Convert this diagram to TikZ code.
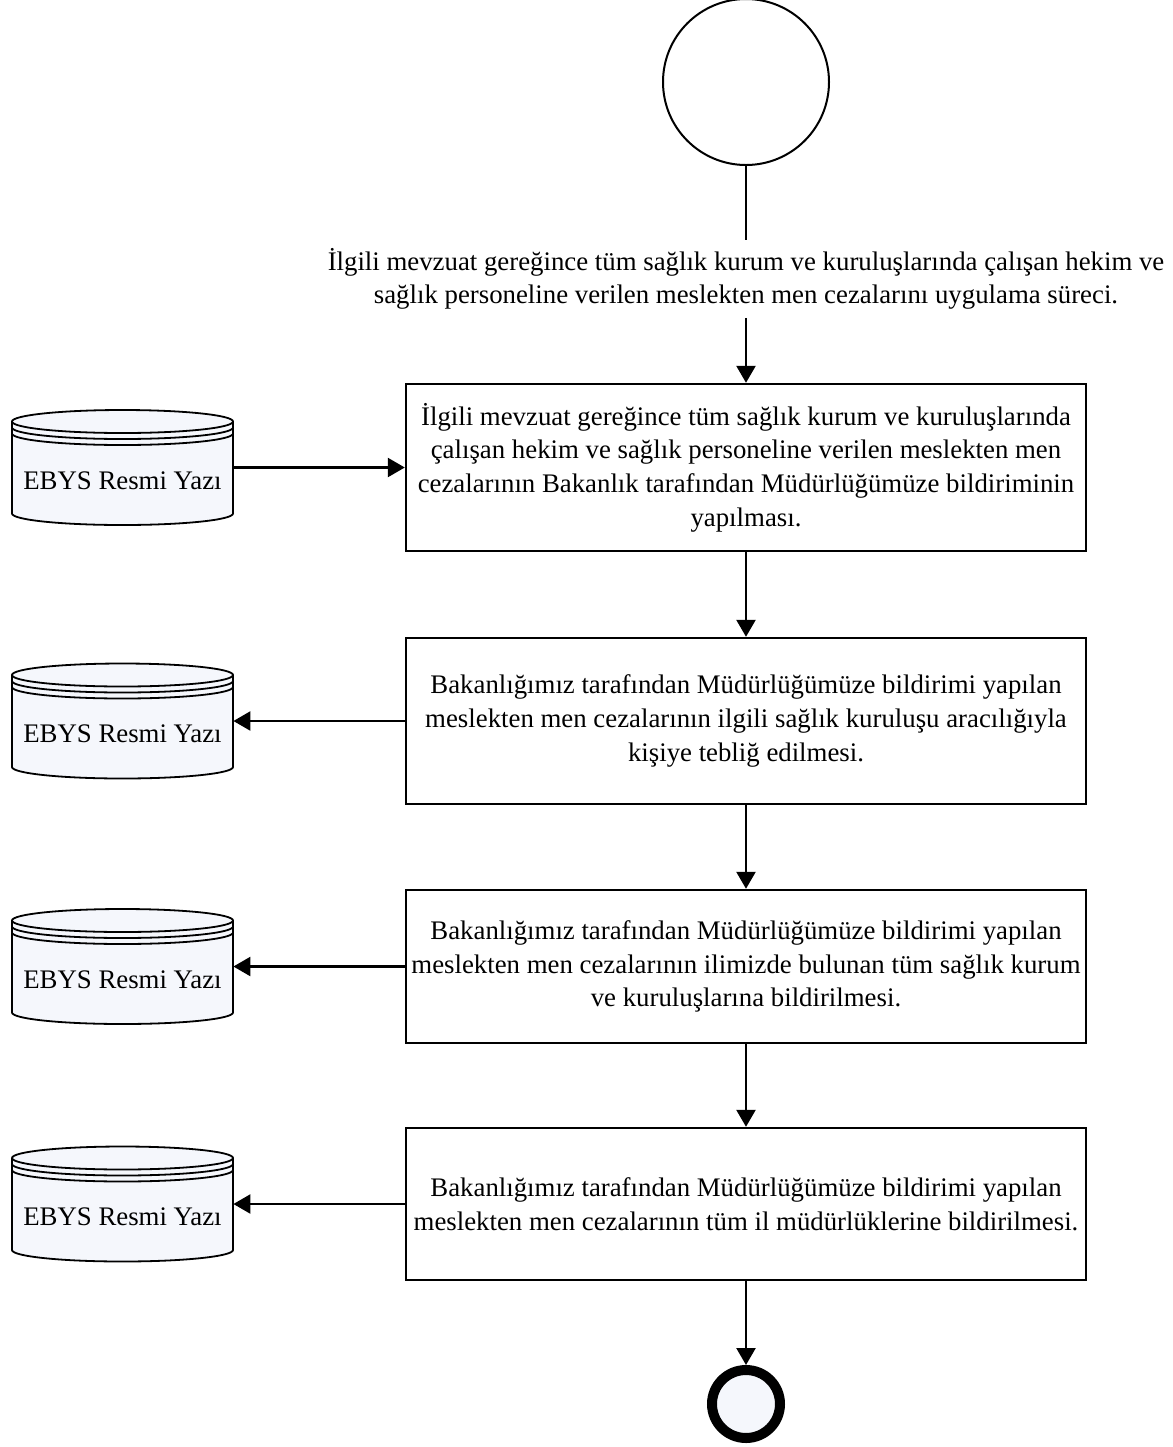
\documentclass[tikz,border=0pt]{standalone}
\usepackage{fontspec}
\setmainfont{Liberation Serif}
\usepackage{tikz}
\usetikzlibrary{arrows.meta}
\definecolor{Ink}{HTML}{000000}
\definecolor{Pale}{HTML}{F5F7FC}
\tikzset{
  stepbox/.style={draw=Ink,line width=1.2pt,fill=white,minimum width=340pt,align=center,inner sep=2pt,font=\fontsize{13.4}{16.8}\selectfont},
  flow/.style={draw=Ink,line width=1.2pt,-{Triangle[length=8.5pt,width=9.5pt]}},
  dbframe/.style={minimum width=110.5pt,minimum height=57.5pt,inner sep=0pt},
  dbtext/.style={font=\fontsize{13.4}{15}\selectfont,inner sep=0pt}
}
\newcommand{\ebysdb}[2]{%
  \draw[fill=Pale,draw=Ink,line width=0.9pt] (12,#2-46) -- (12,#2+46) arc[start angle=180,end angle=360,x radius=55.25pt,y radius=5.75pt] -- (233,#2-46) arc[start angle=0,end angle=180,x radius=55.25pt,y radius=5.75pt] -- cycle;
  \foreach \d in {0,6,12}{\draw[Ink,line width=0.9pt] (12,#2-46+\d) arc[start angle=180,end angle=360,x radius=55.25pt,y radius=5.75pt];}
  \node[dbframe] (#1) at (122.5,#2) {};
  \node[dbtext] (#1t) at (122.5,#2+13) {EBYS Resmi Yazı};
}

\begin{document}
\begin{tikzpicture}[x=0.5pt,y=-0.5pt]
  \useasboundingbox (0,0) rectangle (1173,1447);
  \node[draw=Ink,circle,line width=1pt,minimum size=83pt,inner sep=0pt] (start) at (746,82) {};
  \node[align=center,inner sep=4pt,font=\fontsize{13.4}{16.5}\selectfont] (desc) at (746,279) {İlgili mevzuat gereğince tüm sağlık kurum ve kuruluşlarında çalışan hekim ve\\sağlık personeline verilen meslekten men cezalarını uygulama süreci.};
  \node[stepbox,minimum height=83.5pt] (b1) at (746,467.5) {İlgili mevzuat gereğince tüm sağlık kurum ve kuruluşlarında\\çalışan hekim ve sağlık personeline verilen meslekten men\\cezalarının Bakanlık tarafından Müdürlüğümüze bildiriminin\\yapılması.};
  \node[stepbox,minimum height=83pt] (b2) at (746,721) {Bakanlığımız tarafından Müdürlüğümüze bildirimi yapılan\\meslekten men cezalarının ilgili sağlık kuruluşu aracılığıyla\\kişiye tebliğ edilmesi.};
  \node[stepbox,minimum height=76.5pt] (b3) at (746,966.5) {Bakanlığımız tarafından Müdürlüğümüze bildirimi yapılan\\meslekten men cezalarının ilimizde bulunan tüm sağlık kurum\\ve kuruluşlarına bildirilmesi.};
  \node[stepbox,minimum height=76pt] (b4) at (746,1204) {Bakanlığımız tarafından Müdürlüğümüze bildirimi yapılan\\meslekten men cezalarının tüm il müdürlüklerine bildirilmesi.};
  \node[draw=Ink,circle,line width=5pt,fill=Pale,minimum size=34pt,inner sep=0pt] (stop) at (746,1404) {};
  \ebysdb{db1}{467.5}
  \ebysdb{db2}{721}
  \ebysdb{db3}{966.5}
  \ebysdb{db4}{1204}
  \draw[Ink,line width=1.2pt] (start) -- (desc);
  \draw[flow] (desc) -- (b1);
  \draw[flow] (b1) -- (b2);
  \draw[flow] (b2) -- (b3);
  \draw[flow] (b3) -- (b4);
  \draw[flow] (b4) -- (stop);
  \draw[flow] (db1) -- (b1);
  \draw[flow] (b2) -- (db2);
  \draw[flow] (b3) -- (db3);
  \draw[flow] (b4) -- (db4);
\end{tikzpicture}
\end{document}
